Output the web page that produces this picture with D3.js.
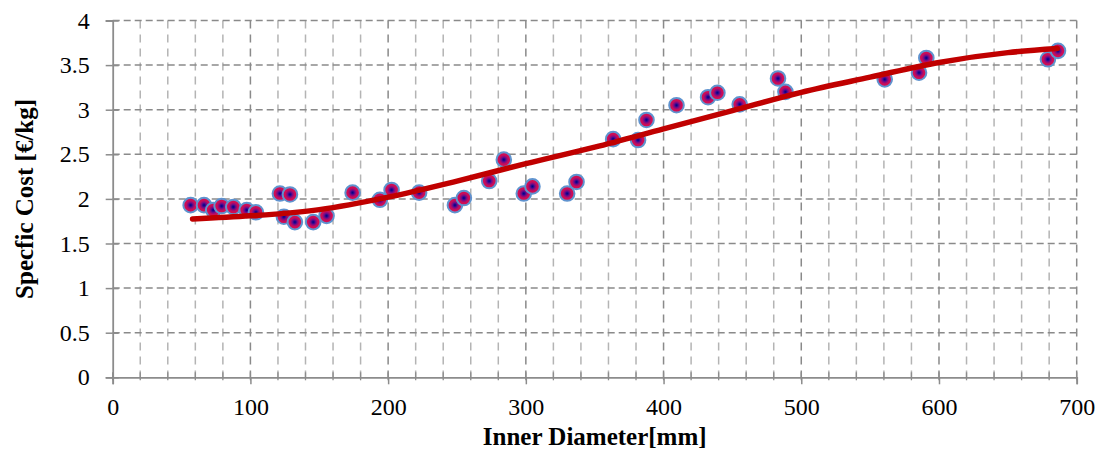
<!DOCTYPE html>
<html>
<head>
<meta charset="utf-8">
<script src="https://cdn.jsdelivr.net/npm/d3@7"></script>
<style>
  body { margin: 0; background: #fff; }
  svg { display: block; }
  text { font-family: 'Liberation Serif', 'Times New Roman', serif; }
</style>
</head>
<body>
<svg id="chart" width="1106" height="452"></svg>
<script>
// Measured pipes: inner diameter [mm] and specific cost [€/kg]
const diameters = [56.6, 66.3, 73.0, 79.1, 87.6, 97.3, 104.0, 121.4, 128.7, 124.3, 132.3, 145.6, 155.3,
  174.2, 194.0, 202.5, 222.5, 248.5, 255.0, 273.4, 284.0, 298.5, 304.8, 330.0, 336.8,
  363.4, 381.5, 387.6, 409.4, 432.3, 439.1, 455.3, 483.1, 488.5,
  560.6, 585.5, 590.8, 679.1, 686.4];
const costs = [1.93, 1.93, 1.875, 1.92, 1.91, 1.875, 1.85, 2.06, 2.05, 1.80, 1.74, 1.74, 1.81,
  2.07, 1.99, 2.10, 2.07, 1.93, 2.01, 2.20, 2.44, 2.06, 2.14, 2.06, 2.19,
  2.67, 2.66, 2.885, 3.05, 3.14, 3.19, 3.06, 3.35, 3.20,
  3.34, 3.415, 3.58, 3.565, 3.66];

// Trend line sampled along the fitted curve
const trendDiameters = [58, 100, 150, 200, 250, 300, 350, 400, 450, 500, 550, 600, 650, 686];
const trendCosts = [1.775, 1.81, 1.88, 2.02, 2.2, 2.395, 2.58, 2.785, 2.99, 3.195, 3.365, 3.53, 3.64, 3.685];

// Axis ticks
const xTicks = [0, 100, 200, 300, 400, 500, 600, 700];
const xMinorTicks = d3.range(0, 701, 20);
const yTicks = [0, 0.5, 1, 1.5, 2, 2.5, 3, 3.5, 4];

const serif = "'Liberation Serif', 'Times New Roman', serif";
const svg = d3.select("#chart");
const plot = { left: 112.7, right: 1076.7, top: 20.5, bottom: 377.3 };

const x = d3.scaleLinear().domain([0, 700]).range([plot.left, plot.right]);
const y = d3.scaleLinear().domain([0, 4]).range([plot.bottom, plot.top]);

// Marker fill: dark blue core fading through purple to crimson
const defs = svg.append("defs");
const grad = defs.append("radialGradient").attr("id", "markerFill")
  .attr("cx", "50%").attr("cy", "50%").attr("r", "50%");
[["0%", "#000080"], ["14%", "#1c0890"], ["34%", "#720a88"], ["60%", "#c40c5c"], ["100%", "#e40c46"]]
  .forEach(([o, c]) => grad.append("stop").attr("offset", o).attr("stop-color", c));

const grid = svg.append("g");

// Vertical minor gridlines every 20 mm
grid.selectAll("line.vminor")
  .data(xMinorTicks.filter(d => d % 100 !== 0))
  .join("line")
  .attr("x1", d => x(d)).attr("x2", d => x(d))
  .attr("y1", plot.top).attr("y2", plot.bottom)
  .attr("stroke", "#b4b4b4").attr("stroke-width", 1.5)
  .attr("stroke-dasharray", "8,6");

// Vertical major gridlines every 100 mm
grid.selectAll("line.vmajor")
  .data(xTicks.filter(d => d > 0))
  .join("line")
  .attr("x1", d => x(d)).attr("x2", d => x(d))
  .attr("y1", plot.top).attr("y2", plot.bottom)
  .attr("stroke", "#8a8a8a").attr("stroke-width", 1.5)
  .attr("stroke-dasharray", "8,6");

// Horizontal gridlines every 0.5 €/kg
grid.selectAll("line.h")
  .data(yTicks.filter(d => d > 0))
  .join("line")
  .attr("x1", plot.left).attr("x2", plot.right)
  .attr("y1", d => y(d)).attr("y2", d => y(d))
  .attr("stroke", "#8a8a8a").attr("stroke-width", 1.5)
  .attr("stroke-dasharray", "7,4");

// Axes
const axisColor = "#8c8c8c";
const xAxis = svg.append("g").attr("transform", `translate(0,${plot.bottom})`)
  .call(d3.axisBottom(x).tickValues(xTicks).tickSize(7).tickPadding(14).tickFormat(d3.format("d")));
const xMinor = svg.append("g").attr("transform", `translate(0,${plot.bottom})`);
xMinor.selectAll("line")
  .data(xMinorTicks)
  .join("line")
  .attr("x1", d => x(d)).attr("x2", d => x(d))
  .attr("y1", -5).attr("y2", 3)
  .attr("stroke", axisColor).attr("stroke-width", 1.3);

const yAxis = svg.append("g").attr("transform", `translate(${plot.left},0)`)
  .call(d3.axisLeft(y).tickValues(yTicks).tickSize(7).tickPadding(16).tickFormat(d => String(d)));

[xAxis, yAxis].forEach(g => {
  g.attr("font-family", serif).attr("font-size", 24);
  g.select(".domain").attr("stroke", axisColor).attr("stroke-width", 1.8);
  g.selectAll(".tick line").attr("stroke", axisColor).attr("stroke-width", 1.5);
  g.selectAll(".tick text").attr("fill", "#000");
});
// y ticks also poke into the plot a little
yAxis.selectAll(".tick").append("line")
  .attr("x1", 0).attr("x2", 6).attr("stroke", axisColor).attr("stroke-width", 1.5);

// Data points
const points = diameters.map((d, i) => ({ d, c: costs[i] }));
svg.append("g").selectAll("circle")
  .data(points)
  .join("circle")
  .attr("cx", p => x(p.d)).attr("cy", p => y(p.c))
  .attr("r", 7.3)
  .attr("fill", "url(#markerFill)")
  .attr("stroke", "#5f93cf").attr("stroke-width", 2);

// Trend line
const trend = trendDiameters.map((d, i) => ({ d, c: trendCosts[i] }));
svg.append("path")
  .datum(trend)
  .attr("fill", "none")
  .attr("stroke", "#c00000")
  .attr("stroke-width", 5.5)
  .attr("stroke-linecap", "round")
  .attr("d", d3.line().x(p => x(p.d)).y(p => y(p.c)).curve(d3.curveMonotoneX));

// Axis titles
svg.append("text")
  .attr("x", (plot.left + plot.right) / 2).attr("y", 445)
  .attr("text-anchor", "middle")
  .attr("font-family", serif)
  .attr("font-size", 25).attr("font-weight", "bold")
  .text("Inner Diameter[mm]");

svg.append("text")
  .attr("transform", `translate(33,${(plot.top + plot.bottom) / 2}) rotate(-90)`)
  .attr("text-anchor", "middle")
  .attr("font-family", serif)
  .attr("font-size", 25).attr("font-weight", "bold")
  .text("Specfic Cost [€/kg]");
</script>
</body>
</html>
